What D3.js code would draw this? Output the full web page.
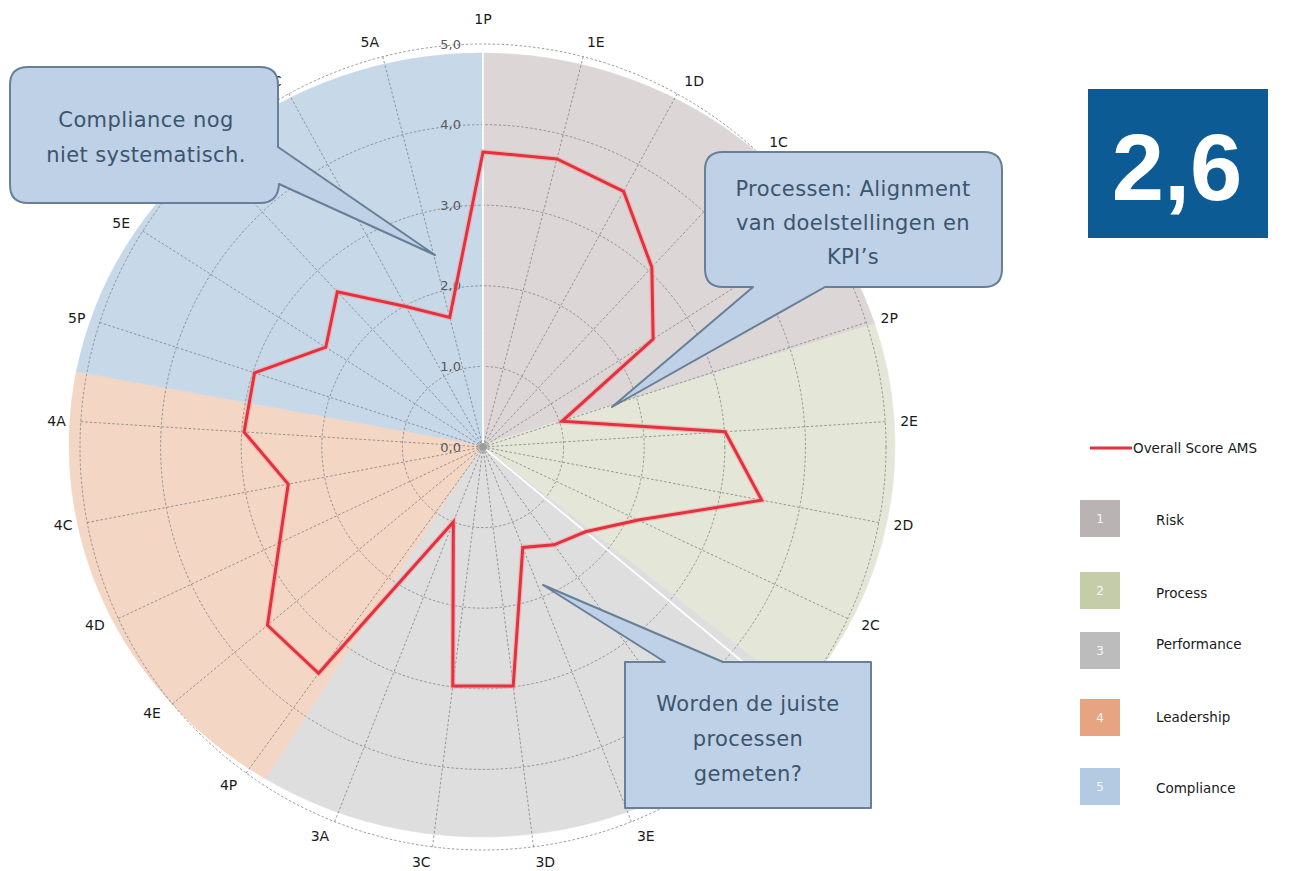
<!DOCTYPE html>
<html>
<head>
<meta charset="utf-8">
<script src="https://cdn.jsdelivr.net/npm/d3@7"></script>
<style>
  body { margin: 0; background: #fff; }
  text { font-family: 'DejaVu Sans', sans-serif; }
</style>
</head>
<body>
<svg width="1293" height="871"></svg>
<script>
const axes = ['1P','1E','1D','1C','1A','2P','2E','2D','2C','2A','3P','3E','3D','3C','3A',
              '4P','4E','4D','4C','4A','5P','5E','5D','5C','5A'];
const scores = [3.66, 3.69, 3.62, 3.06, 2.50,
                1.03, 3.01, 3.52, 2.13, 1.65,
                1.50, 1.34, 2.99, 2.99, 1.00,
                3.47, 3.47, 2.79, 2.46, 2.97,
                2.98, 2.31, 2.64, 1.99, 1.66];
const categories = ['Risk', 'Process', 'Performance', 'Leadership', 'Compliance'];
// where each coloured band starts, in axis steps from 1P
const categoryStart = [0, 5, 9, 14.7, 19.5];
const categoryFill = ['#ddd6d6', '#e4e7d8', '#dedede', '#f4d6c4', '#c7d8e8'];
const legendFill = ['#b9b3b3', '#c5cca8', '#bcbcbc', '#e6a483', '#b4c9e2'];
const ticks = [0, 1, 2, 3, 4, 5];
// axis labels that sit under a callout in the original
const coveredLabels = ['1A', '2A', '3P', '5D'];
const overall = '2,6';
const seriesName = 'Overall Score AMS';

const svg = d3.select('svg');
const cx = 483;
const cy = 447;
const radius = 403;

const r = d3.scaleLinear().domain([0, 5]).range([0, radius]);
const angle = d3.scaleLinear().domain([0, axes.length]).range([0, 2 * Math.PI]);
const fmt = d3.format('.1f');

// coloured bands (slightly wider than tall, like the original)
const bandG = svg.append('g')
    .attr('transform', `translate(482,445) scale(${413 / 400},${392 / 400})`);
const band = d3.arc().innerRadius(0).outerRadius(400);
categories.forEach((c, i) => {
  const end = i + 1 < categoryStart.length ? categoryStart[i + 1] : axes.length;
  bandG.append('path')
      .attr('d', band({ startAngle: angle(categoryStart[i]), endAngle: angle(end) }))
      .attr('fill', categoryFill[i])
      .attr('stroke', categoryFill[i])
      .attr('stroke-width', 0.6);
});

const g = svg.append('g')
    .attr('transform', `translate(${cx},${cy})`);

// rings
g.selectAll('.ring')
  .data(ticks.slice(1))
  .enter().append('circle')
    .attr('class', 'ring')
    .attr('r', d => r(d))
    .attr('fill', 'none')
    .attr('stroke', '#808080')
    .attr('stroke-width', 0.8)
    .attr('stroke-dasharray', '2.5,2');

// spokes
g.selectAll('.spoke')
  .data(axes)
  .enter().append('line')
    .attr('class', 'spoke')
    .attr('x2', (d, i) => r(5) * Math.sin(angle(i)))
    .attr('y2', (d, i) => -r(5) * Math.cos(angle(i)))
    .attr('stroke', '#808080')
    .attr('stroke-width', 0.8)
    .attr('stroke-dasharray', '2.5,2');

// white separators on 1P and 2A
['1P', '2A'].forEach(a => {
  const i = axes.indexOf(a);
  g.append('line')
      .attr('x2', r(5) * Math.sin(angle(i)))
      .attr('y2', -r(5) * Math.cos(angle(i)))
      .attr('stroke', '#ffffff')
      .attr('stroke-width', 1.8);
});

g.append('circle')
    .attr('r', 4)
    .attr('fill', '#9c9c9c');

// value labels along 1P
g.selectAll('.tick')
  .data(ticks)
  .enter().append('text')
    .attr('class', 'tick')
    .attr('x', -22)
    .attr('y', d => -r(d))
    .attr('dy', '0.35em')
    .attr('text-anchor', 'end')
    .attr('font-size', 13)
    .attr('fill', '#5a5a5a')
    .text(d => fmt(d).replace('.', ','));

// score line
const line = d3.lineRadial()
    .angle((d, i) => angle(i))
    .radius(d => r(d))
    .curve(d3.curveLinearClosed);

g.append('path')
    .attr('d', line(scores))
    .attr('fill', 'none')
    .attr('stroke', '#f4a5a8')
    .attr('stroke-width', 5.5)
    .attr('stroke-linejoin', 'miter')
    .attr('opacity', 0.6);

g.append('path')
    .attr('d', line(scores))
    .attr('fill', 'none')
    .attr('stroke', '#e2323d')
    .attr('stroke-width', 3)
    .attr('stroke-linejoin', 'miter');

// axis labels
axes.forEach((a, i) => {
  if (coveredLabels.includes(a)) return;
  const t = angle(i);
  const s = Math.sin(t);
  const c = Math.cos(t);
  let x = 418 * s;
  let y = -418 * c;
  let anchor = 'middle';
  if (s > 0.1) anchor = 'start';
  else if (s < -0.1) anchor = 'end';
  else y -= 10 * c;
  g.append('text')
      .attr('x', x)
      .attr('y', y)
      .attr('dy', '0.35em')
      .attr('text-anchor', anchor)
      .attr('font-size', 14)
      .attr('fill', '#1a1a1a')
      .text(a);
});

// callouts
const calloutFill = '#bfd1e6';
const calloutStroke = '#677f98';
const calloutText = '#3c556e';

function addCallout(d, lines, tx, ty, lh) {
  svg.append('path')
      .attr('d', d)
      .attr('fill', calloutFill)
      .attr('stroke', calloutStroke)
      .attr('stroke-width', 2)
      .attr('stroke-linejoin', 'round');
  lines.forEach((l, k) => {
    svg.append('text')
        .attr('x', tx)
        .attr('y', ty + k * lh)
        .attr('dy', '0.35em')
        .attr('text-anchor', 'middle')
        .attr('font-size', 21)
        .attr('letter-spacing', 0.4)
        .attr('fill', calloutText)
        .text(l);
  });
}

addCallout(
  'M28,67 H260 Q278,67 278,85 V147 L435,255 L279,184 Q278,203 260,203 H28 Q10,203 10,185 V85 Q10,67 28,67 Z',
  ['Compliance nog', 'niet systematisch.'], 146, 120, 35);

addCallout(
  'M723,152 H984 Q1002,152 1002,170 V269 Q1002,287 984,287 H825 L612,407 L753,287 H723 Q705,287 705,269 V170 Q705,152 723,152 Z',
  ['Processen: Alignment', 'van doelstellingen en', 'KPI\u2019s'], 853, 189, 34);

addCallout(
  'M625,662 H665 L543,585 L723,662 H871 V808 H625 Z',
  ['Worden de juiste', 'processen', 'gemeten?'], 748, 704, 35);

// overall score box
svg.append('rect')
    .attr('x', 1088)
    .attr('y', 89)
    .attr('width', 180)
    .attr('height', 149)
    .attr('fill', '#0c5b94');

svg.append('text')
    .attr('x', 1177)
    .attr('y', 200)
    .attr('text-anchor', 'middle')
    .attr('font-weight', 'bold')
    .attr('font-size', 94)
    .attr('fill', '#ffffff')
    .style('font-family', "'Liberation Sans', sans-serif")
    .text(overall);

// legend
svg.append('line')
    .attr('x1', 1090)
    .attr('x2', 1132)
    .attr('y1', 448)
    .attr('y2', 448)
    .attr('stroke', '#e2323d')
    .attr('stroke-width', 3);

svg.append('text')
    .attr('x', 1133)
    .attr('y', 448)
    .attr('dy', '0.35em')
    .attr('font-size', 13.5)
    .attr('fill', '#1a1a1a')
    .text(seriesName);

const boxTop = [500, 572, 632, 699, 768];
const labelY = [520, 593, 644, 717, 788];
categories.forEach((c, i) => {
  svg.append('rect')
      .attr('x', 1080)
      .attr('y', boxTop[i])
      .attr('width', 40)
      .attr('height', 37)
      .attr('fill', legendFill[i]);
  svg.append('text')
      .attr('x', 1100)
      .attr('y', boxTop[i] + 18.5)
      .attr('dy', '0.35em')
      .attr('text-anchor', 'middle')
      .attr('font-size', 12)
      .attr('fill', '#f6f6f6')
      .text(i + 1);
  svg.append('text')
      .attr('x', 1156)
      .attr('y', labelY[i])
      .attr('dy', '0.35em')
      .attr('font-size', 13.5)
      .attr('fill', '#1a1a1a')
      .text(c);
});
</script>
</body>
</html>
